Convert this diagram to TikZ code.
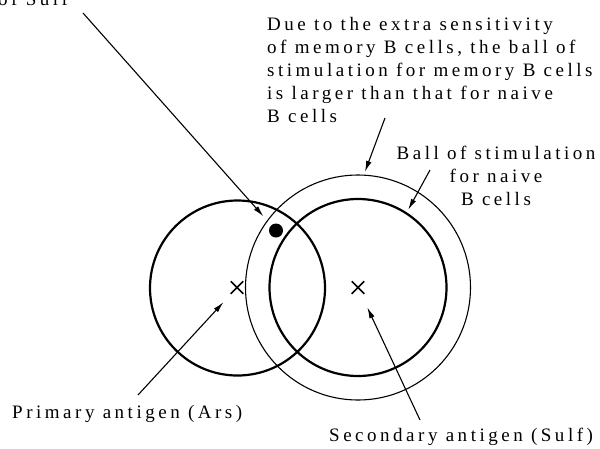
\documentclass[tikz,border=0pt]{standalone}
\usepackage{fontspec}
\setmainfont{Liberation Serif}[LetterSpace=18.5]
\usetikzlibrary{arrows.meta,shapes.misc}
\begin{document}
\begin{tikzpicture}[x=1pt,y=-1pt,
  lbl/.style={font=\fontsize{19}{23}\selectfont, inner sep=0pt, anchor=base west},
  ball/.style={draw, circle, inner sep=0pt, line width=2.2pt},
  outerball/.style={draw, circle, inner sep=0pt, line width=1.1pt},
  arr/.style={line width=1.1pt, -{Latex[length=11pt,width=5.5pt]}},
  antigen/.style={draw, cross out, minimum size=11pt, inner sep=0pt, line width=1.5pt},
  spot/.style={circle, fill, minimum size=14pt, inner sep=0pt},
]
\useasboundingbox (0,0) rectangle (600,448);
\node[ball, minimum size=175pt] (L) at (237.5,288) {};
\node[ball, minimum size=177pt] (N) at (358,287.5) {};
\node[outerball, minimum size=225pt] (O) at (358,287.5) {};
\node[antigen] (xL) at (237,287.5) {};
\node[antigen] (xN) at (358,287.5) {};
\node[spot] (dot) at (276,230.5) {};

\node[lbl] (sulf) at (-2,5) {of Sulf};
\node[lbl, align=left] (memo) at (267,122) {Due to the extra sensitivity\\of memory B cells, the ball of\\stimulation for memory B cells\\is larger than that for naive\\B cells};
\node[lbl, align=center, anchor=base] (naive) at (496,205) {Ball of stimulation\\for naive\\B cells};
\node[lbl] (prim) at (12,418) {Primary antigen (Ars)};
\node[lbl] (sec) at (329,441.5) {Secondary antigen (Sulf)};

\coordinate (t1) at (83,13);
\coordinate (t2) at (385,118);
\coordinate (t3) at (430,170);
\coordinate (t4) at (138,395);
\coordinate (t5) at (420,420);

\draw[arr, shorten >=19pt] (t1) -- (dot.center);
\draw[arr, shorten >=3pt] (t2) -- (O.87);
\draw[arr, shorten >=3pt] (t3) -- (N.57);
\draw[arr, shorten >=20pt] (t4) -- (xL.center);
\draw[arr, shorten >=22pt] (t5) -- (xN.center);
\end{tikzpicture}
\end{document}
